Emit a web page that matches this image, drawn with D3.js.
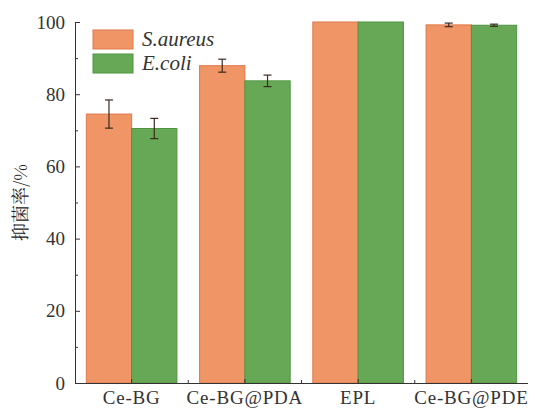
<!DOCTYPE html>
<html>
<head>
<meta charset="utf-8">
<script src="https://cdn.jsdelivr.net/npm/d3@7"></script>
<style>
  body { margin: 0; background: #fff; }
</style>
</head>
<body>
<svg id="chart" width="535" height="415"></svg>
<script>
const categories = ["Ce-BG", "Ce-BG@PDA", "EPL", "Ce-BG@PDE"]
const seriesNames = ["S.aureus", "E.coli"]
const aureus = [74.5, 87.9, 100, 99.2]
const aureusErr = [3.9, 1.8, 0, 0.5]
const ecoli = [70.5, 83.7, 100, 99.1]
const ecoliErr = [2.8, 1.6, 0, 0.3]
const yTicks = [0, 20, 40, 60, 80, 100]
const yMinor = [10, 30, 50, 70, 90]

const colors = ["#ef9566", "#66a855"]
const strokes = ["#e0784a", "#4f9540"]
const serif = "'Times New Roman', 'Liberation Serif', 'DejaVu Serif', serif"

const svg = d3.select("#chart")
const margin = {left: 75, right: 7, top: 22, bottom: 32}
const W = 535, H = 415

const x = d3.scaleBand()
    .domain(categories)
    .range([margin.left, W - margin.right])
    .paddingInner(0.2)
    .paddingOuter(0.1)

const xs = d3.scaleBand()
    .domain(seriesNames)
    .range([0, x.bandwidth()])

const y = d3.scaleLinear()
    .domain([0, 100])
    .range([H - margin.bottom, margin.top])

const data = categories.map((c, i) => ({
    cat: c,
    vals: [
        {s: seriesNames[0], v: aureus[i], e: aureusErr[i], k: 0},
        {s: seriesNames[1], v: ecoli[i], e: ecoliErr[i], k: 1}
    ]
}))

// bars
const groups = svg.append("g").selectAll("g.grp")
    .data(data)
    .enter()
    .append("g")
    .attr("transform", d => `translate(${x(d.cat)},0)`)

groups.selectAll("rect")
    .data(d => d.vals)
    .enter()
    .append("rect")
    .attr("x", d => xs(d.s))
    .attr("y", d => y(d.v))
    .attr("width", xs.bandwidth())
    .attr("height", d => y(0) - y(d.v))
    .attr("fill", d => colors[d.k])
    .attr("stroke", d => strokes[d.k])
    .attr("stroke-width", 1)

// error bars
groups.selectAll("g.err")
    .data(d => d.vals.filter(v => v.e > 0))
    .enter()
    .append("g")
    .each(function (d) {
        const cx = xs(d.s) + xs.bandwidth() / 2
        const sel = d3.select(this)
        sel.append("line")
            .attr("x1", cx).attr("x2", cx)
            .attr("y1", y(d.v + d.e)).attr("y2", y(d.v - d.e))
        sel.append("line")
            .attr("x1", cx - 4).attr("x2", cx + 4)
            .attr("y1", y(d.v + d.e)).attr("y2", y(d.v + d.e))
        sel.append("line")
            .attr("x1", cx - 4).attr("x2", cx + 4)
            .attr("y1", y(d.v - d.e)).attr("y2", y(d.v - d.e))
        sel.selectAll("line").attr("stroke", "#3a2a20").attr("stroke-width", 1.2)
    })

// y axis
const yAxis = svg.append("g")
    .attr("transform", `translate(${margin.left},0)`)
    .call(d3.axisLeft(y).tickValues(yTicks).tickSize(-5).tickPadding(10))
const yMinorAxis = svg.append("g")
    .attr("transform", `translate(${margin.left},0)`)
    .call(d3.axisLeft(y).tickValues(yMinor).tickSize(-3).tickFormat(""))
yMinorAxis.select(".domain").remove()

// x axis
const xAxis = svg.append("g")
    .attr("transform", `translate(0,${y(0)})`)
    .call(d3.axisBottom(x).tickSize(-4).tickPadding(8).tickSizeOuter(0))
xAxis.select(".domain").attr("d", `M${margin.left},0.5H${W - margin.right}`)
// minor x ticks between groups
const bounds = categories.slice(1).map(c => x(c) - x.step() * x.paddingInner() / 2)
xAxis.selectAll("line.minor")
    .data(bounds)
    .enter()
    .append("line")
    .attr("x1", d => d).attr("x2", d => d)
    .attr("y1", 0).attr("y2", -3)

svg.selectAll(".domain").attr("stroke", "#333")
svg.selectAll("g.tick line").attr("stroke", "#333")
xAxis.selectAll("line").attr("stroke", "#333")
yAxis.selectAll(".tick text")
    .style("font-family", serif)
    .style("font-size", "19px")
    .attr("fill", "#333")
xAxis.selectAll(".tick text")
    .style("font-family", serif)
    .style("font-size", "19px")
    .style("letter-spacing", "0.8px")
    .attr("fill", "#333")

// y label
svg.append("text")
    .attr("transform", `translate(19,${y(50)}) rotate(-90)`)
    .attr("text-anchor", "middle")
    .attr("dominant-baseline", "central")
    .attr("fill", "#222")
    .style("font-size", "18px")
    .style("font-family", "'Noto Serif CJK SC', 'Noto Sans CJK SC', serif")
    .text("抑菌率/%")

// legend
const legend = svg.append("g").attr("transform", "translate(93,30)")
seriesNames.forEach((s, i) => {
    legend.append("rect")
        .attr("x", 0).attr("y", i * 24)
        .attr("width", 40).attr("height", 19)
        .attr("fill", colors[i])
        .attr("stroke", strokes[i])
    legend.append("text")
        .attr("x", 49).attr("y", i * 24 + 16)
        .attr("fill", "#333")
        .style("font-family", serif)
        .style("font-size", "21px")
        .style("font-style", "italic")
        .text(s)
})
</script>
</body>
</html>
